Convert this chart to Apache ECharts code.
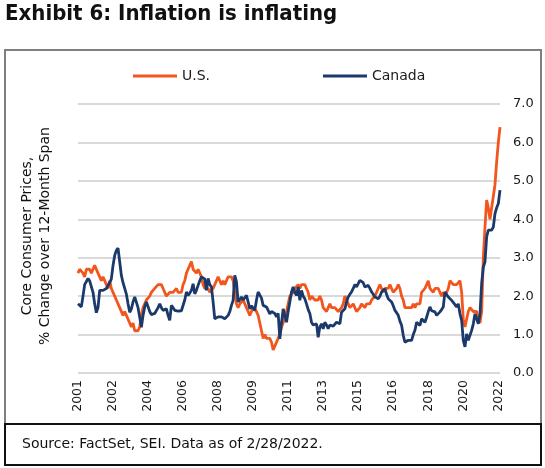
<!DOCTYPE html>
<html>
<head>
<meta charset="utf-8">
<script src="https://cdn.jsdelivr.net/npm/echarts@6/dist/echarts.min.js"></script>
<style>
html,body{margin:0;padding:0;background:#fff;}
#chart{width:545px;height:468px;}
</style>
</head>
<body>
<div id="chart"></div>
<script>
// Monthly data, Jan 2001 - Feb 2022
var startYear = 2001, startMonth = 1, monthCount = 254;
var usCore = [
2.6,2.7,2.7,2.6,2.5,2.7,2.7,2.7,2.6,2.6,2.8,2.7,
2.6,2.6,2.4,2.5,2.5,2.3,2.2,2.4,2.2,2.2,2.0,1.9,
1.9,1.7,1.7,1.5,1.6,1.5,1.5,1.3,1.2,1.3,1.1,1.1,
1.1,1.2,1.5,1.7,1.8,1.9,1.9,2.0,2.1,2.1,2.2,2.2,
2.3,2.3,2.3,2.2,2.2,2.0,2.0,2.1,2.1,2.1,2.1,2.2,
2.1,2.1,2.1,2.3,2.4,2.6,2.7,2.8,2.9,2.7,2.7,2.6,
2.7,2.7,2.5,2.3,2.2,2.2,2.2,2.1,2.1,2.2,2.3,2.4,
2.5,2.4,2.3,2.4,2.3,2.4,2.5,2.5,2.5,2.4,2.1,1.8,
1.7,1.8,1.8,1.9,1.8,1.7,1.6,1.5,1.6,1.7,1.7,1.6,
1.5,1.3,1.1,0.9,1.0,0.9,0.9,0.9,0.8,0.6,0.7,0.7,
0.9,1.0,1.2,1.3,1.5,1.6,1.8,2.0,2.0,2.1,2.2,2.2,
2.3,2.2,2.3,2.3,2.3,2.2,2.1,1.9,2.0,2.0,1.9,1.9,
1.9,2.0,1.9,1.7,1.7,1.6,1.7,1.8,1.7,1.7,1.7,1.7,
1.6,1.6,1.7,1.8,2.0,1.9,1.9,1.7,1.7,1.8,1.7,1.6,
1.6,1.7,1.8,1.8,1.7,1.8,1.8,1.8,1.9,1.9,2.0,2.1,
2.2,2.3,2.2,2.1,2.2,2.2,2.2,2.3,2.2,2.1,2.1,2.2,
2.3,2.2,2.0,1.9,1.7,1.7,1.7,1.7,1.7,1.8,1.7,1.8,
1.8,1.8,2.1,2.1,2.2,2.3,2.4,2.2,2.2,2.1,2.2,2.2,
2.2,2.1,2.0,2.1,2.0,2.1,2.2,2.4,2.4,2.3,2.3,2.3,
2.3,2.4,2.1,1.4,1.2,1.2,1.6,1.7,1.7,1.6,1.6,1.6,
1.4,1.3,1.6,3.0,3.8,4.5,4.3,4.0,4.0,4.6,4.9,5.5,
6.0,6.4
];
var canadaCore = [
1.8,1.75,1.72,2.0,2.3,2.35,2.46,2.4,2.35,2.1,1.8,1.57,
1.7,2.15,2.2,2.15,2.15,2.2,2.2,2.35,2.45,2.8,3.06,3.19,
3.25,2.9,2.54,2.35,2.2,2.05,1.8,1.58,1.67,1.85,1.98,2.02,
1.7,1.45,1.19,1.5,1.72,1.85,1.88,1.6,1.52,1.5,1.55,1.58,
1.7,1.8,1.7,1.63,1.65,1.67,1.5,1.37,1.76,1.7,1.63,1.62,
1.61,1.62,1.62,1.63,1.9,2.11,2.02,2.08,2.15,2.32,2.06,2.15,
2.28,2.4,2.5,2.54,2.45,2.15,2.46,2.3,2.24,1.85,1.41,1.45,
1.46,1.41,1.46,1.41,1.41,1.46,1.5,1.6,1.76,1.89,2.54,2.37,
1.85,1.9,1.98,1.9,1.85,2.02,1.85,1.67,1.75,1.8,1.63,1.9,
2.11,2.11,1.95,1.76,1.74,1.72,1.63,1.54,1.6,1.63,1.55,1.46,
1.55,0.89,1.3,1.67,1.5,1.32,1.6,1.85,2.11,2.24,2.1,2.02,
2.24,1.89,2.15,2.0,1.93,1.8,1.65,1.55,1.32,1.25,1.24,1.28,
0.93,1.2,1.28,1.15,1.32,1.25,1.15,1.25,1.28,1.22,1.2,1.32,
1.3,1.28,1.58,1.62,1.67,1.85,1.98,2.05,2.11,2.2,2.3,2.24,
2.26,2.41,2.46,2.35,2.24,2.28,2.28,2.2,2.11,2.05,1.98,1.95,
1.93,2.0,2.11,2.15,2.19,2.05,1.93,1.9,1.85,1.75,1.63,1.57,
1.5,1.35,1.24,0.98,0.8,0.83,0.85,0.85,0.85,1.0,1.11,1.32,
1.3,1.24,1.41,1.38,1.32,1.45,1.6,1.72,1.62,1.67,1.59,1.5,
1.46,1.59,1.65,1.72,2.11,2.06,1.98,1.95,1.89,1.85,1.78,1.72,
1.8,1.54,1.37,0.85,0.68,1.02,0.85,0.98,1.11,1.28,1.54,1.59,
1.28,1.54,2.33,2.76,2.89,3.54,3.72,3.72,3.72,3.8,4.15,4.3,
4.41,4.76
];
var labelStep = 21; // one year label every 21 months
var yTicks = [0, 7, 1]; // min, max, interval
var seriesNames = ['U.S.', 'Canada'];
var titleText = 'Exhibit 6: Inflation is inflating';
var yAxisTitle = 'Core Consumer Prices,\n% Change over 12-Month Span';
var sourceText = 'Source: FactSet, SEI. Data as of 2/28/2022.';

var months = [];
for (var i = 0; i < monthCount; i++) {
  var y = startYear + Math.floor((startMonth - 1 + i) / 12);
  var m = ((startMonth - 1 + i) % 12) + 1;
  months.push(y + '-' + (m < 10 ? '0' + m : m));
}

var FONT = 'DejaVu Sans';
var chart = echarts.init(document.getElementById('chart'), null, {renderer: 'canvas'});
chart.setOption({
  animation: false,
  backgroundColor: '#ffffff',
  textStyle: {fontFamily: FONT},
  grid: {left: 78, right: 45, top: 104, bottom: 95},
  legend: [
    {data: [seriesNames[0]], left: 128, top: 64, icon: 'rect', itemWidth: 44, itemHeight: 3,
     textStyle: {fontFamily: FONT, fontSize: 14, color: '#1a1a1a'}},
    {data: [seriesNames[1]], left: 318, top: 64, icon: 'rect', itemWidth: 44, itemHeight: 3,
     textStyle: {fontFamily: FONT, fontSize: 14, color: '#1a1a1a'}}
  ],
  xAxis: [{
    type: 'category',
    data: months,
    boundaryGap: false,
    axisLine: {show: false},
    axisTick: {show: false},
    axisLabel: {show: false},
    splitLine: {show: false}
  }],
  yAxis: {
    type: 'value',
    position: 'right',
    min: yTicks[0], max: yTicks[1], interval: yTicks[2],
    axisLine: {show: false},
    axisTick: {show: false},
    axisLabel: {margin: 13, fontSize: 13, color: '#1a1a1a',
      formatter: function (v) { return v.toFixed(1); }},
    splitLine: {lineStyle: {color: '#d9d9d9', width: 2}}
  },
  series: [
    {name: seriesNames[0], type: 'line', data: usCore, showSymbol: false, symbol: 'none',
     color: '#F2561D', lineStyle: {width: 2.8, color: '#F2561D'}, z: 2},
    {name: seriesNames[1], type: 'line', data: canadaCore, showSymbol: false, symbol: 'none',
     color: '#1B3A6B', lineStyle: {width: 2.8, color: '#1B3A6B'}, z: 3}
  ],
  graphic: [
    {id: 'title', type: 'text', left: 5, top: 3, style: {text: titleText, font: 'bold 22px "Liberation Sans Narrow", "DejaVu Sans Condensed", sans-serif', fill: '#111'}},
    {id: 'frame', type: 'rect', shape: {x: 5, y: 50, width: 536, height: 374}, style: {fill: 'none', stroke: '#808080', lineWidth: 2}},
    {id: 'srcbox', type: 'rect', shape: {x: 5, y: 424, width: 536, height: 41}, style: {fill: 'none', stroke: '#111', lineWidth: 2}},
    {id: 'src', type: 'text', x: 22, y: 444, style: {text: sourceText, font: '14px "DejaVu Sans"', fill: '#111', textVerticalAlign: 'middle'}},
    {id: 'ytitle', type: 'text', x: 36, y: 236, rotation: Math.PI / 2,
     style: {text: yAxisTitle, font: '14px "DejaVu Sans"', fill: '#111', textAlign: 'center', textVerticalAlign: 'middle', lineHeight: 18}}
  ]
});

// Rotated year labels placed through the category axis scale
var baseY = chart.convertToPixel({yAxisIndex: 0}, 0);
var yearLabels = [];
for (var k = 0; k < months.length; k += labelStep) {
  var px = chart.convertToPixel({xAxisIndex: 0}, months[k]);
  yearLabels.push({
    id: 'yr' + k, type: 'text', x: px, y: baseY + 7, rotation: Math.PI / 2,
    style: {text: months[k].slice(0, 4), font: '12.5px "DejaVu Sans"', fill: '#1a1a1a',
            textAlign: 'right', textVerticalAlign: 'middle'}
  });
}
chart.setOption({graphic: yearLabels});
</script>
</body>
</html>
